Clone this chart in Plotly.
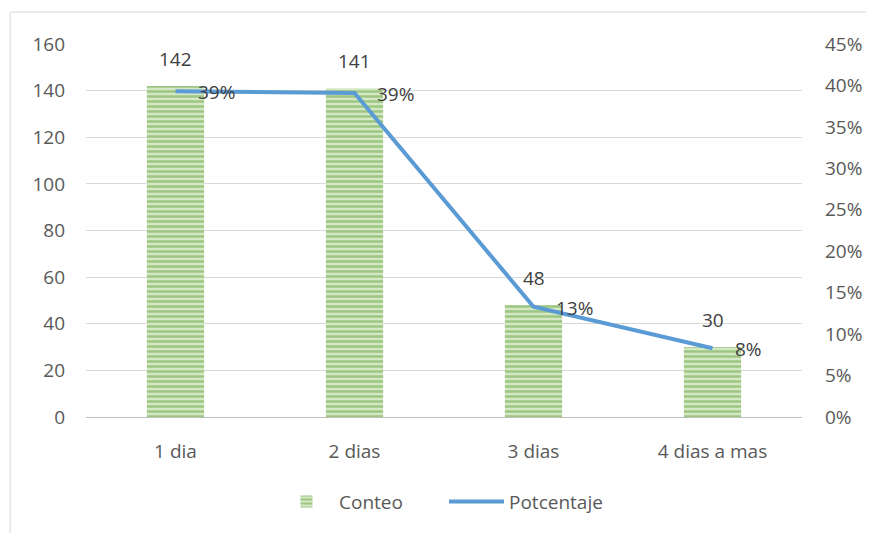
import plotly.graph_objects as go

categorias = ["1 dia", "2 dias", "3 dias", "4 dias a mas"]
conteo = [142, 141, 48, 30]
porcentaje = [0.393, 0.391, 0.133, 0.083]

txt = "#595959"
fnt = "Open Sans"

fig = go.Figure()
fig.add_trace(go.Bar(
    x=categorias, y=conteo, name="Conteo",
    marker=dict(color="#d4e8c6", line=dict(width=0),
                pattern=dict(shape="-", fgcolor="#68a340", bgcolor="#d4e8c6",
                             size=5, solidity=0.5, fillmode="overlay")),
))
fig.add_trace(go.Scatter(
    x=categorias, y=porcentaje, name="Potcentaje", yaxis="y2",
    mode="lines", line=dict(color="#5b9bd5", width=4),
    cliponaxis=False,
))

# etiquetas de datos
anots = []
for c, v in zip(categorias, conteo):
    anots.append(dict(x=c, y=v, xref="x", yref="y", text=str(v), showarrow=False,
                      yanchor="bottom", yshift=12, font=dict(size=19, color="#404040")))
for c, p in zip(categorias, porcentaje):
    anots.append(dict(x=c, y=p, xref="x", yref="y2", text=f"{round(p*100)}%",
                      showarrow=False, xanchor="left", xshift=20, yshift=-1,
                      font=dict(size=19, color="#404040")))

fig.update_layout(
    width=866, height=525,
    margin=dict(l=78, r=68, t=36, b=115),
    plot_bgcolor="white", paper_bgcolor="white",
    font=dict(family=fnt, size=19, color=txt),
    bargap=0.68,
    showlegend=True,
    legend=dict(orientation="h", x=0.5, xanchor="center", y=-0.227, yanchor="middle",
                font=dict(size=19, color=txt), itemwidth=55, entrywidth=100),
    xaxis=dict(showgrid=False, showline=True, linecolor="#bfbfbf", linewidth=1,
               ticks="", ticklabelstandoff=17),
    yaxis=dict(range=[0, 160], dtick=20, showgrid=True, gridcolor="#d9d9d9",
               zeroline=False, ticklabelstandoff=20),
    yaxis2=dict(range=[0, 0.45], dtick=0.05, tickformat=".0%", overlaying="y",
                side="right", showgrid=False, zeroline=False, ticklabelstandoff=22),
    annotations=anots,
    shapes=[dict(type="rect", xref="paper", yref="paper",
                 x0=-0.106, x1=1.09, y0=-0.35, y1=1.0856,
                 line=dict(color="#d9d9d9", width=1))],
)

fig.write_html("out.html")
